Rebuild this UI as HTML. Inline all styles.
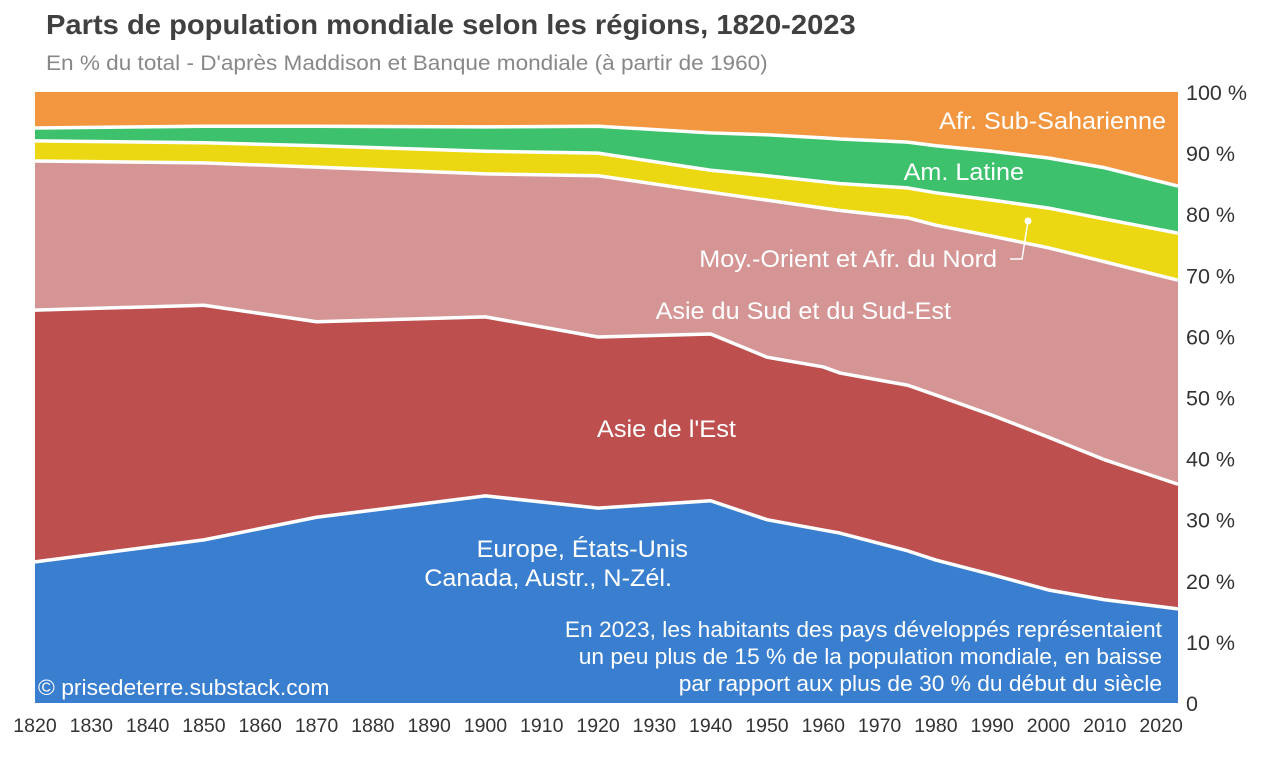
<!DOCTYPE html>
<html><head><meta charset="utf-8"><style>
body{margin:0;background:#fff;font-family:"Liberation Sans",sans-serif}
svg text{font-family:"Liberation Sans",sans-serif}
</style></head><body>
<svg id="chart" width="1279" height="757">
<text x="46" y="34" font-size="27.5" font-weight="bold" fill="#404040" data-sx="1.06">Parts de population mondiale selon les régions, 1820-2023</text>
<text x="46" y="70" font-size="21.5" fill="#888" data-sx="1.05">En % du total - D'après Maddison et Banque mondiale (à partir de 1960)</text>
<g id="areas"></g><g id="axes"></g>
<g fill="#fff" font-size="24">
<text x="1166" y="129" text-anchor="end" data-sx="1.05">Afr. Sub-Saharienne</text>
<text x="1024" y="180" text-anchor="end" data-sx="1.05">Am. Latine</text>
<text x="997" y="267" text-anchor="end" data-sx="1.05">Moy.-Orient et Afr. du Nord</text>
<text x="951" y="319" text-anchor="end" data-sx="1.05">Asie du Sud et du Sud-Est</text>
<text x="736" y="437" text-anchor="end" data-sx="1.06">Asie de l'Est</text>
<text x="688" y="557" text-anchor="end" data-sx="1.05">Europe, États-Unis</text>
<text x="672" y="586" text-anchor="end" data-sx="1.05">Canada, Austr., N-Zél.</text>
<text x="1162" y="637" text-anchor="end" font-size="22" data-sx="1.035">En 2023, les habitants des pays développés représentaient</text>
<text x="1162" y="664" text-anchor="end" font-size="22" data-sx="1.035">un peu plus de 15 % de la population mondiale, en baisse</text>
<text x="1162" y="691" text-anchor="end" font-size="22" data-sx="1.035">par rapport aux plus de 30 % du début du siècle</text>
<text x="38" y="695" font-size="22" data-sx="1.04">© prisedeterre.substack.com</text>
</g>
<polyline points="1010,259 1022,259 1028,221" fill="none" stroke="#fff" stroke-width="1.5"/>
<circle cx="1028" cy="221" r="3.5" fill="#fff"/>
</svg>
<script>
const years=[1820,1850,1870,1900,1920,1940,1950,1960,1963,1975,1980,1990,2000,2010,2023];
const europe=[23.1,26.7,30.4,33.9,31.9,33.1,30,28.3,27.8,24.9,23.4,21,18.5,16.9,15.4];
const eastAsia=[41.2,38.4,32,29.3,28,27.3,26.6,26.7,26.2,27.1,27,26.1,25,22.9,20.4];
const southAsia=[24.4,23.3,25.3,23.4,26.4,23.2,25.7,26,26.6,27.4,27.8,29.3,31,32.4,33.4];
const mena=[3.3,3.3,3.5,3.7,3.7,3.6,4,4.3,4.4,4.9,5.3,5.9,6.5,7,7.7];
const latam=[2.1,2.7,3.2,4,4.4,6.1,6.7,7.2,7.3,7.5,7.7,8,8.2,8.4,7.7];
const yTicks=[0,10,20,30,40,50,60,70,80,90,100];
const xTicks=[1820,1830,1840,1850,1860,1870,1880,1890,1900,1910,1920,1930,1940,1950,1960,1970,1980,1990,2000,2010,2020];
const X=y=>35+(y-1820)*(1178-35)/203;
const Y=v=>703-v*6.11;
const NS="http://www.w3.org/2000/svg";
const areas=document.getElementById('areas'),axes=document.getElementById('axes');
const series=[[europe,'#3a7fcf','area-europe'],[eastAsia,'#bd4f4f','area-east-asia'],[southAsia,'#d59595','area-south-asia'],[mena,'#ecd812','area-mena'],[latam,'#3dc16c','area-latam']];
let base=years.map(()=>0);
const bg=document.createElementNS(NS,'rect');
bg.setAttribute('x',X(1820));bg.setAttribute('y',Y(100));bg.setAttribute('width',X(2023)-X(1820));bg.setAttribute('height',Y(0)-Y(100));bg.setAttribute('fill','#f29640');


areas.appendChild(bg);
const lines=[];
series.forEach(([vals,col,name])=>{
  const top=base.map((b,i)=>b+vals[i]);
  const up=years.map((y,i)=>X(y)+','+Y(top[i]));
  const down=years.map((y,i)=>X(y)+','+Y(base[i])).reverse();
  const p=document.createElementNS(NS,'polygon');
  p.setAttribute('points',up.concat(down).join(' '));p.setAttribute('fill',col);
  
  
  areas.appendChild(p);
  lines.push(up.join(' '));
  base=top;
});
lines.forEach(pts=>{
  const l=document.createElementNS(NS,'polyline');
  l.setAttribute('points',pts);l.setAttribute('fill','none');l.setAttribute('stroke','#fff');l.setAttribute('stroke-width','3.5');l.setAttribute('stroke-linejoin','round');
  
  
  areas.appendChild(l);
});
yTicks.forEach(v=>{
  const t=document.createElementNS(NS,'text');
  t.setAttribute('x',1186);t.setAttribute('y',Y(v)+8);t.setAttribute('font-size','21.5');t.setAttribute('fill','#333');
  t.textContent=v===0?'0':v+' %';
  
  
  axes.appendChild(t);
});
xTicks.forEach(v=>{
  const t=document.createElementNS(NS,'text');
  t.setAttribute('x',X(v));t.setAttribute('y',732);t.setAttribute('font-size','19.5');t.setAttribute('fill','#333');t.setAttribute('text-anchor','middle');
  t.textContent=v;
  
  
  axes.appendChild(t);
});
document.querySelectorAll('svg text[data-sx]').forEach(t=>{
  const x=parseFloat(t.getAttribute('x'));
  const s=t.getAttribute('data-sx');
  t.setAttribute('transform',`translate(${x},0) scale(${s},1) translate(${-x},0)`);
});
</script>
</body></html>
